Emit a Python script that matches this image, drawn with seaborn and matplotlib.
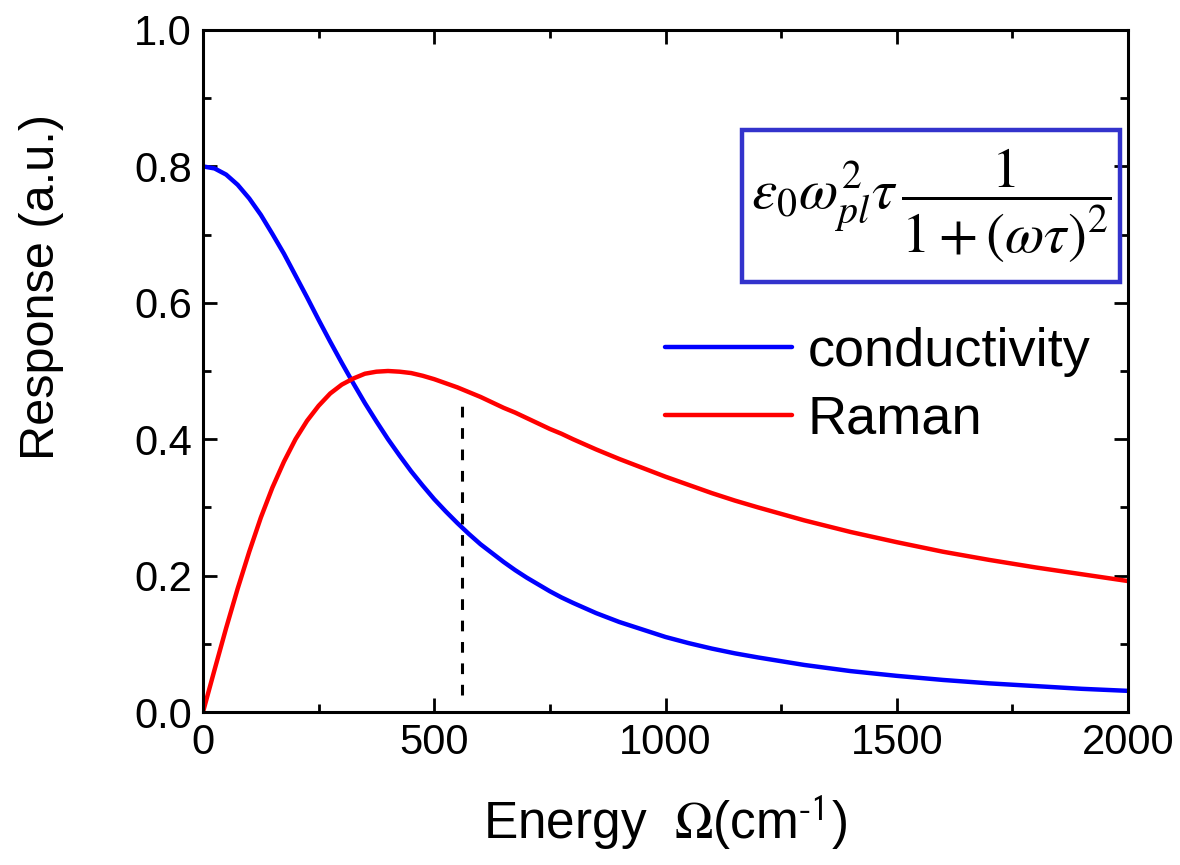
import matplotlib
matplotlib.use("Agg")
import matplotlib.pyplot as plt
from matplotlib.patches import Rectangle
from matplotlib.ticker import MultipleLocator, FormatStrFormatter
import pandas as pd
import seaborn as sns

# Energy axis samples (cm^-1) and the two response curves
energy = [0, 25, 50, 75, 100, 125, 150, 175, 200, 225, 250, 275, 300, 325,
          350, 375, 400, 425, 450, 475, 500, 525, 550, 575, 600, 625, 650,
          675, 700, 725, 750, 775, 800, 850, 900, 950, 1000, 1050, 1100, 1150,
          1200, 1300, 1400, 1500, 1600, 1700, 1800, 1900, 2000]
conductivity = [0.800, 0.797, 0.788, 0.773, 0.753, 0.729, 0.701, 0.672, 0.640,
                0.608, 0.575, 0.543, 0.512, 0.482, 0.453, 0.426, 0.400, 0.376,
                0.353, 0.332, 0.312, 0.294, 0.277, 0.261, 0.246, 0.233, 0.220,
                0.208, 0.197, 0.187, 0.177, 0.168, 0.160, 0.145, 0.132, 0.121,
                0.110, 0.101, 0.093, 0.086, 0.080, 0.069, 0.060, 0.053, 0.047,
                0.042, 0.038, 0.034, 0.031]
raman = [0.000, 0.062, 0.123, 0.181, 0.235, 0.285, 0.329, 0.367, 0.400,
         0.427, 0.449, 0.467, 0.480, 0.489, 0.496, 0.499, 0.500, 0.499,
         0.497, 0.493, 0.488, 0.482, 0.476, 0.469, 0.462, 0.454, 0.446,
         0.439, 0.431, 0.423, 0.415, 0.408, 0.400, 0.385, 0.371, 0.358,
         0.345, 0.333, 0.321, 0.310, 0.300, 0.281, 0.264, 0.249, 0.235,
         0.223, 0.212, 0.202, 0.192]
series_names = ["conductivity", "Raman"]
series_colors = ["#0000ff", "#ff0000"]

# Vertical dashed marker
marker_x = 560
marker_y = [0.025, 0.457]

sns.set_style("ticks")
plt.rcParams["font.family"] = ["Liberation Sans", "DejaVu Sans"]
plt.rcParams["mathtext.fontset"] = "stix"
plt.rcParams["axes.unicode_minus"] = False
plt.rcParams["text.color"] = "black"
plt.rcParams["axes.labelcolor"] = "black"

df = pd.DataFrame({
    "energy": energy * 2,
    "response": conductivity + raman,
    "series": [series_names[0]] * len(energy) + [series_names[1]] * len(energy),
})

fig = plt.figure(figsize=(11.8, 8.65), dpi=100)
ax = fig.add_axes([203 / 1180, 1 - 712 / 865, 925 / 1180, 682 / 865])

sns.lineplot(data=df, x="energy", y="response", hue="series",
             hue_order=series_names, palette=series_colors,
             linewidth=3.2, ax=ax)

ax.plot([marker_x, marker_x], marker_y, color="black", linestyle=(0, (3.5, 3.5)),
        linewidth=2.2)

ax.set_xlim(0, 2000)
ax.set_ylim(0, 1.0)
ax.xaxis.set_major_locator(MultipleLocator(500))
ax.xaxis.set_minor_locator(MultipleLocator(250))
ax.yaxis.set_major_locator(MultipleLocator(0.2))
ax.yaxis.set_minor_locator(MultipleLocator(0.1))
ax.yaxis.set_major_formatter(FormatStrFormatter("%.1f"))

for side in ["top", "right", "bottom", "left"]:
    ax.spines[side].set_visible(True)
    ax.spines[side].set_linewidth(2.2)
    ax.spines[side].set_color("black")

ax.tick_params(which="both", direction="in", top=True, right=True,
               width=2.0, colors="black", labelcolor="black")
ax.tick_params(which="major", length=10, labelsize=30, pad=8)
ax.tick_params(which="minor", length=6)

ax.set_xlabel(r"Energy  $\Omega$(cm$^{\text{-}\mathsf{1}}$)", fontsize=37, labelpad=22)
ax.set_ylabel("Response (a.u.)", fontsize=35)
ax.yaxis.set_label_coords(-(203 - 64) / 925, (712 - 287) / 682)

leg = ax.legend(frameon=False, loc="center left",
                bbox_to_anchor=((665 - 203) / 925, (712 - 386) / 682),
                borderpad=0, borderaxespad=0, fontsize=39,
                handlelength=2.35, handletextpad=0.28, labelspacing=0.32)
for line in leg.get_lines():
    line.set_linewidth(3.2)
for t in leg.get_texts():
    t.set_color("black")

# Formula box
bx0, bx1 = (742 - 203) / 925, (1120 - 203) / 925
by0, by1 = (712 - 282) / 682, (712 - 130) / 682
ax.add_patch(Rectangle((bx0, by0), bx1 - bx0, by1 - by0, transform=ax.transAxes,
                       fill=False, edgecolor="#3333cc", linewidth=3.2, zorder=5))
ax.text((bx0 + bx1) / 2, (by0 + by1) / 2,
        r"$\varepsilon_0\omega_{pl}^2\tau\,\dfrac{1}{1+(\omega\tau)^2}$",
        transform=ax.transAxes, ha="center", va="center", fontsize=41, zorder=6)

fig.savefig("out.png", dpi=100)
